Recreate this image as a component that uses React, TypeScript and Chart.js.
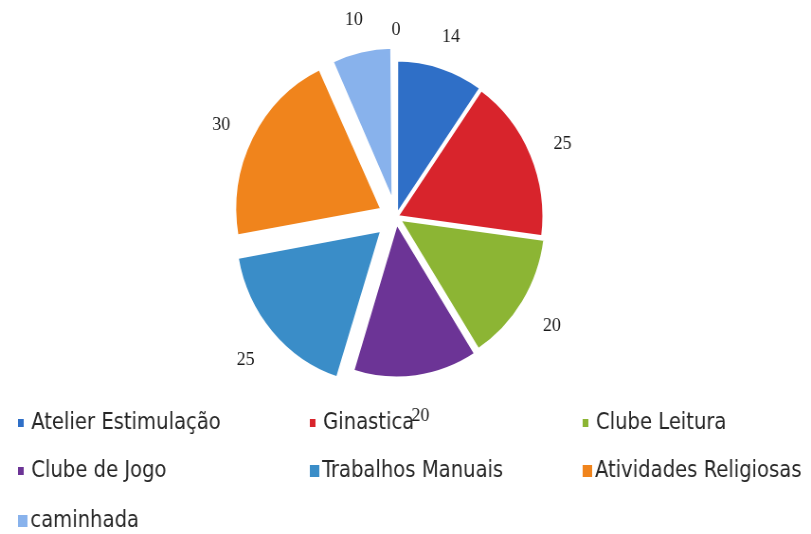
import React, { useEffect, useRef } from "react";
import { Chart, registerables } from "chart.js";

Chart.register(...registerables);

const categories = [
  "Atelier Estimulação",
  "Ginastica",
  "Clube Leitura",
  "Clube de Jogo",
  "Trabalhos Manuais",
  "Atividades Religiosas",
  "caminhada",
  "",
];
const values = [14, 25, 20, 20, 25, 30, 10, 0];
const colors = [
  "#2F6FC7",
  "#D8242C",
  "#8CB534",
  "#6C3496",
  "#3A8DC8",
  "#F0841C",
  "#88B2EC",
  "#A0A0A0",
];
// pull-out distance in pixels (Chart.js arc offset is applied divided by 4)
const slicePull = [2, 1, 4, 6, 20, 17, 15, 0];
const legendCount = 7;
const pieRadius = 155;

// the reference picture is slightly narrowed horizontally
const CANVAS_W = 856;
const VIEW_W = 811;
const VIEW_H = 534;

// Chart.js enlarges an offset arc by offset*(1-sin(circumference)); undo it so slices share one radius.
const equalRadiusPlugin = {
  id: "equalRadius",
  beforeDatasetsDraw(chart: any) {
    const meta = chart.getDatasetMeta(0);
    meta.data.forEach((arc: any, i: number) => {
      const c = arc.circumference || 0;
      const fix = 1 - Math.sin(Math.min(Math.PI, c));
      arc.outerRadius = pieRadius - slicePull[i] * fix;
    });
  },
};

const labelPlugin = {
  id: "sliceLabels",
  afterDatasetsDraw(chart: any) {
    const ctx = chart.ctx;
    const meta = chart.getDatasetMeta(0);
    ctx.save();
    ctx.font = "19px 'Liberation Serif', 'DejaVu Serif', serif";
    ctx.fillStyle = "#1a1a1a";
    ctx.textAlign = "center";
    ctx.textBaseline = "middle";
    meta.data.forEach((arc: any, i: number) => {
      const p = arc.getProps(["x", "y", "startAngle", "endAngle"], true);
      const mid = (p.startAngle + p.endAngle) / 2;
      const d = pieRadius + slicePull[i] + 36;
      ctx.fillText(String(values[i]), p.x + Math.cos(mid) * d, p.y + Math.sin(mid) * d + 4);
    });
    ctx.restore();
  },
};

const legendPlugin = {
  id: "gridLegend",
  afterDraw(chart: any) {
    const ctx = chart.ctx;
    const colX = [19, 327, 615];
    const rowY = [423, 471, 521];
    const markerSize = [6, 6, 6, 6, 10, 10, 10];
    ctx.save();
    ctx.font = "23px 'Liberation Sans Narrow', 'DejaVu Sans Condensed', sans-serif";
    ctx.textBaseline = "middle";
    ctx.textAlign = "left";
    for (let i = 0; i < legendCount; i++) {
      const x = colX[i % 3];
      const y = rowY[Math.floor(i / 3)];
      const s = markerSize[i];
      ctx.fillStyle = colors[i];
      ctx.fillRect(x, y - s / 2 - 1, s, s + 2);
      ctx.fillStyle = "#262626";
      ctx.fillText(categories[i], x + s + (s > 6 ? 3 : 8), y);
    }
    ctx.restore();
  },
};

export default function App() {
  const ref = useRef<HTMLCanvasElement | null>(null);
  useEffect(() => {
    document.body.style.margin = "0";
    const chart = new Chart(ref.current as HTMLCanvasElement, {
      type: "pie",
      data: {
        labels: categories,
        datasets: [
          {
            data: values,
            backgroundColor: colors,
            borderColor: "#ffffff",
            borderWidth: 3,
            offset: slicePull.map((v) => v * 4),
            radius: pieRadius,
          } as any,
        ],
      },
      options: {
        animation: false,
        responsive: false,
        maintainAspectRatio: false,
        layout: { padding: { left: 0, right: 20, top: 0, bottom: 100 } },
        plugins: {
          legend: { display: false },
          tooltip: { enabled: false },
        },
      },
      plugins: [equalRadiusPlugin, labelPlugin, legendPlugin],
    });
    return () => chart.destroy();
  }, []);
  return (
    <div style={{ width: VIEW_W, height: VIEW_H, background: "#fff", overflow: "hidden" }}>
      <canvas
        ref={ref}
        width={CANVAS_W}
        height={VIEW_H}
        style={{
          display: "block",
          transform: `scaleX(${VIEW_W / CANVAS_W})`,
          transformOrigin: "0 0",
        }}
      />
    </div>
  );
}
